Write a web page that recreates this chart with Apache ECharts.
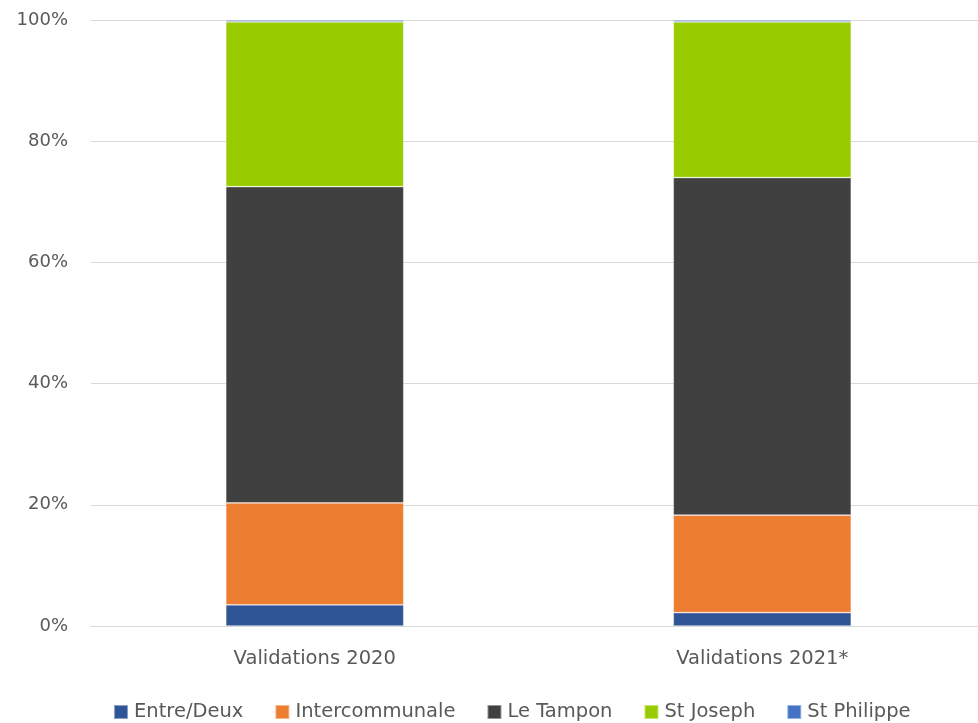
<!DOCTYPE html>
<html>
<head>
<meta charset="utf-8">
<script src="https://cdn.jsdelivr.net/npm/echarts@6/dist/echarts.min.js"></script>
<style>
  html, body { margin: 0; padding: 0; background: #ffffff; }
  #chart { width: 978px; height: 723px; }
</style>
</head>
<body>
<div id="chart"></div>
<script>
// Share of validations per network (percent, stacked to 100)
const categories = ['Validations 2020', 'Validations 2021*'];
const entreDeux = [3.5, 2.2];
const intercommunale = [16.8, 16.1];
const leTampon = [52.2, 55.7];
const stJoseph = [27.2, 25.7];
const stPhilippe = [0.3, 0.3];
const yTicks = [0, 20, 40, 60, 80, 100];

const seriesDefs = [
  { name: 'Entre/Deux', data: entreDeux, color: '#2F5597' },
  { name: 'Intercommunale', data: intercommunale, color: '#ED7D31' },
  { name: 'Le Tampon', data: leTampon, color: '#404040' },
  { name: 'St Joseph', data: stJoseph, color: '#99CC00' },
  { name: 'St Philippe', data: stPhilippe, color: '#4472C4' }
];

const textColor = '#595959';
const fontFamily = '"DejaVu Sans", "Open Sans", sans-serif';

const chart = echarts.init(document.getElementById('chart'));
chart.setOption({
  animation: false,
  textStyle: { fontFamily: fontFamily },
  grid: { left: 91, top: 20, width: 895, height: 606, containLabel: false, outerBoundsMode: 'none' },
  legend: {
    top: 697,
    left: 108,
    itemWidth: 14,
    itemHeight: 14,
    itemGap: 31,
    icon: 'rect',
    textStyle: { color: textColor, fontSize: 19.5, fontFamily: fontFamily, padding: [0, 0, 0, 1] },
    data: seriesDefs.map(s => s.name)
  },
  xAxis: {
    type: 'category',
    data: categories,
    axisLine: { show: true, lineStyle: { color: '#d9d9d9', width: 1 } },
    axisTick: { show: false },
    axisLabel: { color: textColor, fontSize: 19.5, margin: 23 }
  },
  yAxis: {
    type: 'value',
    min: yTicks[0],
    max: yTicks[yTicks.length - 1],
    interval: 20,
    axisLine: { show: false },
    axisTick: { show: false },
    axisLabel: {
      color: textColor,
      fontSize: 18,
      margin: 23,
      formatter: v => v + '%'
    },
    splitLine: { lineStyle: { color: '#d9d9d9', width: 1 } }
  },
  series: seriesDefs.map(s => ({
    name: s.name,
    type: 'bar',
    stack: 'total',
    barWidth: 178,
    data: s.data,
    itemStyle: { color: s.color, borderColor: 'rgba(255,255,255,0.45)', borderWidth: 0.75 }
  }))
});
</script>
</body>
</html>
